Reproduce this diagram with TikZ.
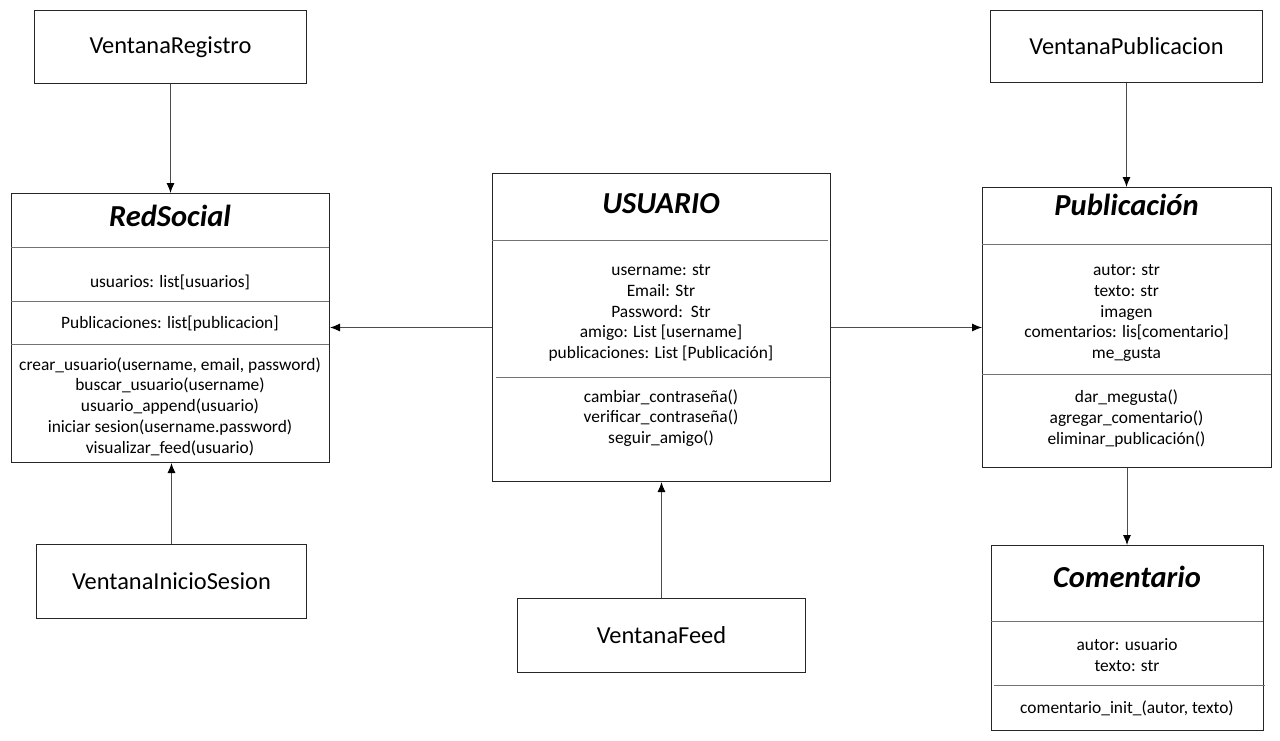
\documentclass[tikz,border=0pt]{standalone}
\usepackage{fontspec}
\setmainfont{Carlito}
\usetikzlibrary{arrows.meta}
\begin{document}
\begin{tikzpicture}[x=1pt,y=-1pt]
\tikzset{
 box/.style={draw=black!85, line width=1pt, inner sep=0pt, anchor=north west},
 win/.style={box, font=\fontsize{24.4}{28}\selectfont},
 div/.style={draw=black!55, line width=0.9pt},
 arr/.style={draw=black!70, line width=0.9pt, -{Latex[length=10pt,width=8pt,color=black,fill=black]}},
 body/.style={font=\fontsize{17.4}{20.8}\selectfont, align=center, inner sep=0pt},
 ttl/.style={font=\fontsize{30.5}{34}\selectfont\bfseries\itshape, inner sep=0pt}
}
\useasboundingbox[fill=white] (0,0) rectangle (1280,740);

% window boxes
\node[win, minimum width=272pt, minimum height=73pt] (vreg) at (34,10) {VentanaRegistro};
\node[win, minimum width=270pt, minimum height=74pt] (vini) at (36,544) {VentanaInicioSesion};
\node[win, minimum width=288pt, minimum height=74pt] (vfeed) at (517,598) {VentanaFeed};
\node[win, minimum width=272pt, minimum height=72pt] (vpub) at (990,10) {VentanaPublicacion};

% RedSocial
\node[box, minimum width=318pt, minimum height=269pt] (red) at (11,193) {};
\draw[div] (11,247) -- (329,247);
\draw[div] (11,301) -- (329,301);
\draw[div] (11,344) -- (329,344);
\node[ttl] (redt) at (170,216) {RedSocial};
\node[body] (reda) at (170,282) {usuarios: list[usuarios]};
\node[body] (redb) at (170,324) {Publicaciones: list[publicacion]};
\node[body] (redm) at (170,406.5) {crear\_usuario(username, email, password)\\buscar\_usuario(username)\\usuario\_append(usuario)\\iniciar sesion(username.password)\\visualizar\_feed(usuario)};

% USUARIO
\node[box, minimum width=338pt, minimum height=308pt] (usu) at (492,173) {};
\draw[div] (492,240) -- (828,240);
\draw[div] (496,377) -- (830,377);
\node[ttl] (usut) at (661,204) {USUARIO};
\node[body] (usua) at (661,313) {username: str\\Email: Str\\Password:\ \ Str\\amigo: List [username]\\publicaciones: List [Publicación]};
\node[body] (usum) at (661,418) {cambiar\_contraseña()\\verificar\_contraseña()\\seguir\_amigo()};

% Publicacion
\node[box, minimum width=289pt, minimum height=280pt] (pub) at (982,187) {};
\draw[div] (982,244) -- (1271,244);
\draw[div] (982,374) -- (1271,374);
\node[ttl] (pubt) at (1126.5,205) {Publicación};
\node[body] (puba) at (1126.5,313) {autor: str\\texto: str\\imagen\\comentarios: lis[comentario]\\me\_gusta};
\node[body] (pubm) at (1126.5,418.5) {dar\_megusta()\\agregar\_comentario()\\eliminar\_publicación()};

% Comentario
\node[box, minimum width=272pt, minimum height=185pt] (com) at (991,545) {};
\draw[div] (991,621) -- (1263,621);
\draw[div] (994,685) -- (1265,685);
\node[ttl] (comt) at (1127,577) {Comentario};
\node[body] (coma) at (1127,655) {autor: usuario\\texto: str};
\node[body] (comm) at (1127,708) {comentario\_init\_(autor, texto)};

% connectors
\draw[arr] (vreg.south) -- (vreg.south |- red.north);
\draw[arr] (vini.north) -- (vini.north |- red.south);
\draw[arr] (usu.west) -- (usu.west -| red.east);
\draw[arr] (usu.east) -- (usu.east -| pub.west);
\draw[arr] (vfeed.north) -- (vfeed.north |- usu.south);
\draw[arr] (vpub.south) -- (vpub.south |- pub.north);
\draw[arr] (pub.south) -- (pub.south |- com.north);
\end{tikzpicture}
\end{document}
